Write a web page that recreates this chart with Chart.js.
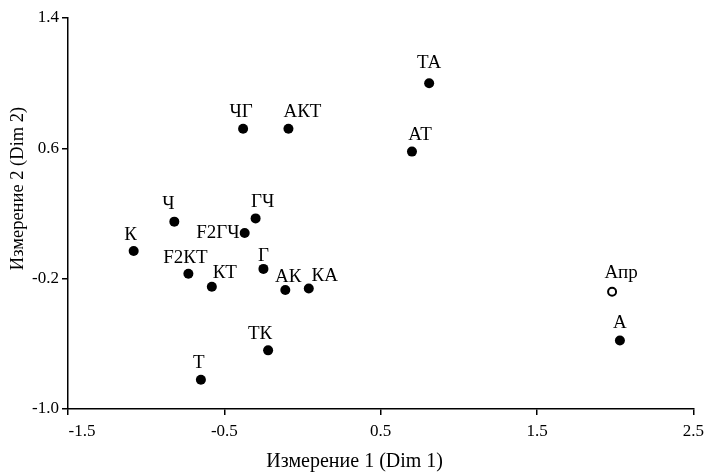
<!DOCTYPE html>
<html>
<head>
<meta charset="utf-8">
<script src="https://cdn.jsdelivr.net/npm/chart.js@4.4.0/dist/chart.umd.min.js"></script>
<style>
  body { margin: 0; background: #fff; }
  #wrap { width: 710px; height: 472px; }
</style>
</head>
<body>
<div id="wrap"><canvas id="scatterChart" width="710" height="472"></canvas></div>
<script>
// --- dados ---
const pontosNomes = ['ТА', 'АТ', 'ЧГ', 'АКТ', 'Ч', 'ГЧ', 'F2ГЧ', 'К', 'Г', 'F2КТ', 'КТ', 'АК', 'КА', 'А', 'ТК', 'Т'];
const dim1 = [0.81, 0.70, -0.38, -0.09, -0.82, -0.30, -0.37, -1.08, -0.25, -0.73, -0.58, -0.11, 0.04, 2.03, -0.22, -0.65];
const dim2 = [1.00, 0.58, 0.72, 0.72, 0.15, 0.17, 0.08, -0.03, -0.14, -0.17, -0.25, -0.27, -0.26, -0.58, -0.64, -0.82];

const abertoNomes = ['Апр'];
const abertoDim1 = [1.98];
const abertoDim2 = [-0.28];

const xTicks = [-1.5, -0.5, 0.5, 1.5, 2.5];
const yTicks = [-1.0, -0.2, 0.6, 1.4];

const tituloX = 'Измерение 1 (Dim 1)';
const tituloY = 'Измерение 2 (Dim 2)';

// deslocamento dos rótulos (px) em relação ao ponto
const rotuloOffset = {
    'ТА': [0, -20, 'center'], 'АТ': [8, -17, 'center'], 'ЧГ': [-2, -17, 'center'],
    'АКТ': [14, -17, 'center'], 'Ч': [-6, -18, 'center'], 'ГЧ': [7, -16, 'center'],
    'F2ГЧ': [-5, 0, 'right'], 'К': [-3, -16, 'center'], 'Г': [0, -13, 'center'],
    'F2КТ': [-3, -16, 'center'], 'КТ': [13, -14, 'center'], 'АК': [3, -13, 'center'],
    'КА': [16, -12, 'center'], 'А': [0, -18, 'center'], 'ТК': [-8, -16, 'center'],
    'Т': [-2, -17, 'center'], 'Апр': [9, -19, 'center']
};

const fonte = '"Liberation Serif", "Times New Roman", serif';

// rótulos dos pontos, ticks do eixo x e títulos dos eixos
const rotulosPlugin = {
    id: 'rotulos',
    afterDatasetsDraw(chart) {
        const ctx = chart.ctx;
        const area = chart.chartArea;
        ctx.save();
        ctx.font = '19px ' + fonte;
        ctx.fillStyle = '#000';
        ctx.textBaseline = 'middle';
        chart.data.datasets.forEach((ds, i) => {
            const meta = chart.getDatasetMeta(i);
            meta.data.forEach((pt, j) => {
                const nome = ds.nomes[j];
                const off = rotuloOffset[nome] || [0, -16, 'center'];
                ctx.textAlign = off[2];
                ctx.fillText(nome, pt.x + off[0], pt.y + off[1]);
            });
        });

        // --- ticks do eixo x (o primeiro fica deslocado p/ direita) ---
        const xs = chart.scales.x;
        ctx.font = '17px ' + fonte;
        ctx.textAlign = 'center';
        xTicks.forEach((v, k) => {
            const px = xs.getPixelForValue(v) + (k === 0 ? 14 : 0);
            ctx.fillText(v.toFixed(1), px, area.bottom + 23);
        });

        // --- títulos ---
        ctx.font = '20px ' + fonte;
        ctx.fillText(tituloX, (area.left + area.right) / 2 - 26, chart.height - 10);
        ctx.font = '18.5px ' + fonte;
        ctx.translate(18, (area.top + area.bottom) / 2 - 25);
        ctx.rotate(-Math.PI / 2);
        ctx.fillText(tituloY, 0, 0);
        ctx.restore();
    }
};

const ctx = document.getElementById('scatterChart').getContext('2d');
new Chart(ctx, {
    type: 'scatter',
    data: {
        datasets: [{
            nomes: pontosNomes,
            data: dim1.map((x, i) => ({ x: x, y: dim2[i] })),
            pointRadius: 5,
            pointBackgroundColor: '#000',
            pointBorderColor: '#000',
            pointBorderWidth: 0
        }, {
            nomes: abertoNomes,
            data: abertoDim1.map((x, i) => ({ x: x, y: abertoDim2[i] })),
            pointRadius: 4,
            pointBackgroundColor: '#fff',
            pointBorderColor: '#000',
            pointBorderWidth: 2
        }]
    },
    plugins: [rotulosPlugin],
    options: {
        responsive: false,
        animation: false,
        layout: { padding: { top: 18, right: 16, left: 0, bottom: 0 } },
        plugins: { legend: { display: false }, tooltip: { enabled: false } },
        scales: {
            x: {
                type: 'linear',
                min: -1.5,
                max: 2.5,
                afterBuildTicks: s => { s.ticks = xTicks.map(v => ({ value: v })); },
                afterFit: s => { s.height = 63; },
                border: { display: true, color: '#000', width: 1.5 },
                grid: { drawOnChartArea: false, drawTicks: true, tickLength: 6, color: '#000', lineWidth: 1.5 },
                ticks: {
                    color: 'rgba(0,0,0,0)',
                    padding: 6,
                    maxRotation: 0,
                    font: { family: fonte, size: 17 },
                    callback: v => v.toFixed(1)
                }
            },
            y: {
                type: 'linear',
                min: -1.0,
                max: 1.4,
                afterBuildTicks: s => { s.ticks = yTicks.map(v => ({ value: v })); },
                afterFit: s => { s.width = 68; },
                border: { display: true, color: '#000', width: 1.5 },
                grid: { drawOnChartArea: false, drawTicks: true, tickLength: 6, color: '#000', lineWidth: 1.5 },
                ticks: {
                    color: '#000',
                    padding: 3,
                    font: { family: fonte, size: 17 },
                    callback: v => v.toFixed(1)
                }
            }
        }
    }
});
</script>
</body>
</html>
